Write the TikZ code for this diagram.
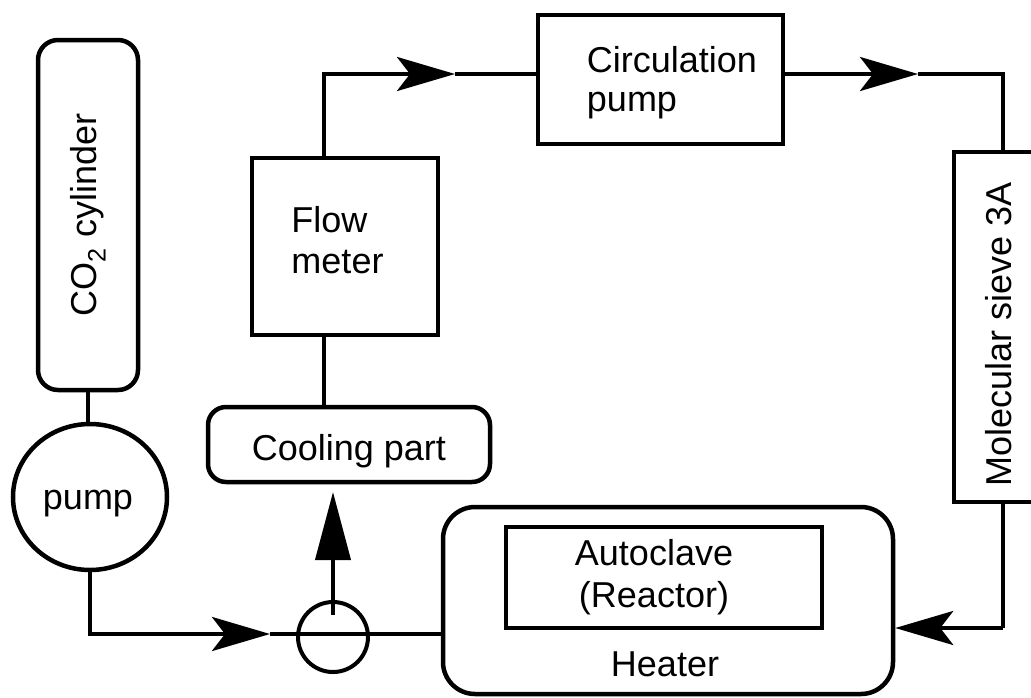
\documentclass[tikz,border=0pt]{standalone}
\usepackage{fontspec}
\setmainfont{Liberation Sans}
\usetikzlibrary{arrows.meta,shapes.geometric}
\begin{document}
\begin{tikzpicture}[x=1pt,y=-1pt,
  line width=4pt,
  every node/.style={font=\fontsize{36}{41}\selectfont},
  box/.style={draw, line width=4.5pt, inner sep=0pt},
  rbox/.style={box, rounded corners=20pt},
  lbl/.style={draw=none, inner sep=0pt, align=center},
  flow/.style={-{Stealth[length=58pt,width=34pt,inset=13pt]}},
  upflow/.style={-{Triangle[length=68pt,width=35pt]}}]
\useasboundingbox (0,0) rectangle (1031,697);
\clip (0,0) rectangle (1031,697);
% nodes
\node[rbox, rotate=90, minimum width=350pt, minimum height=100pt] (cyl) at (88,215) {CO\textsubscript{2} cylinder};
\node[box, ellipse, minimum width=154pt, minimum height=146pt] (pump) at (90,497) {};
\node[lbl] (pumpt) at (88,504) {pump};
\node[box, minimum width=186pt, minimum height=177pt] (flow) at (345,246.5) {};
\node[lbl, align=left] (flowt) at (337.5,240.5) {Flow\\meter};
\node[rbox, rounded corners=18pt, minimum width=282pt, minimum height=75pt] (cool) at (349,444.5) {};
\node[lbl] (coolt) at (349,451) {Cooling part};
\node[box, minimum width=245pt, minimum height=129pt] (circ) at (660.5,79.5) {};
\node[lbl, align=left, font=\fontsize{36}{39}\selectfont] (circt) at (672,83) {Circulation\\pump};
\node[box, rotate=90, minimum width=350pt, minimum height=98pt] (sieve) at (1003,327) {};
\node[lbl, rotate=90] (sievet) at (999,334) {Molecular sieve 3A};
\node[rbox, rounded corners=32pt, minimum width=450pt, minimum height=187pt] (heater) at (668,600.5) {};
\node[box, minimum width=316pt, minimum height=101pt] (auto) at (664,577.5) {};
\node[lbl, font=\fontsize{36}{42}\selectfont] (autot) at (654,577) {Autoclave\\(Reactor)};
\node[lbl] (heatt) at (665,664) {Heater};
\node[draw, circle, minimum size=70pt, inner sep=0pt, line width=4pt] (valve) at (333,637) {};
% coordinates
\coordinate (a1) at (270,634);
\coordinate (hin) at (443,634);
\coordinate (vs) at (333,615);
\coordinate (vt) at (333,492);
\coordinate (xl) at (324,74);
\coordinate (a2) at (455,74);
\coordinate (a3) at (918,74);
\coordinate (xr) at (1003,74);
\coordinate (xb) at (1003,628);
% connectors
\draw (cyl.west) -- (cyl.west |- pump.north);
\draw[flow] (pump.south) |- (a1);
\draw (a1) -- (hin);
\draw[upflow] (vs) -- (vt);
\draw (cool.north -| xl) -- (flow.south -| xl);
\draw[flow] (flow.north -| xl) -- (xl) -- (a2);
\draw (a2) -- (circ.west |- xl);
\draw[flow] (circ.east |- xr) -- (a3);
\draw (a3) -- (xr) -- (sieve.east);
\draw (sieve.west) -- (xb);
\draw[flow] (xb) -- (heater.east |- xb);
\end{tikzpicture}
\end{document}
